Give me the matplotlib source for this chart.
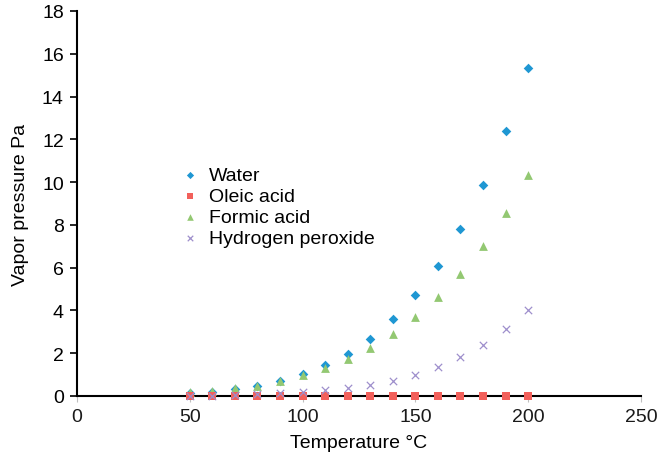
import matplotlib
matplotlib.use("Agg")
import matplotlib.pyplot as plt

plt.rcParams['font.family'] = ['Liberation Sans', 'DejaVu Sans']

temperature = [50, 60, 70, 80, 90, 100, 110, 120, 130, 140, 150, 160, 170, 180, 190, 200]
water = [0.12, 0.20, 0.31, 0.47, 0.70, 1.01, 1.43, 1.96, 2.66, 3.58, 4.71, 6.10, 7.80, 9.86, 12.39, 15.33]
oleic_acid = [0.0] * 16
formic_acid = [0.17, 0.25, 0.36, 0.48, 0.70, 0.98, 1.29, 1.73, 2.24, 2.88, 3.67, 4.61, 5.70, 7.01, 8.55, 10.33]
hydrogen_peroxide = [0.01, 0.02, 0.04, 0.07, 0.12, 0.19, 0.27, 0.36, 0.51, 0.72, 1.00, 1.36, 1.81, 2.40, 3.12, 4.00]

x_ticks = [0, 50, 100, 150, 200, 250]
y_ticks = [0, 2, 4, 6, 8, 10, 12, 14, 16, 18]

fig = plt.figure(figsize=(6.57, 4.60), dpi=100)
ax = fig.add_axes([0.1172, 0.137, 0.8584, 0.837])

ax.scatter(temperature, water, marker='D', s=24, color='#1f97d3', label='Water', zorder=3, linewidths=0, clip_on=False)
ax.scatter(temperature, oleic_acid, marker='s', s=36, color='#f2605b', label='Oleic acid', zorder=5, linewidths=0, clip_on=False)
ax.scatter(temperature, formic_acid, marker='^', s=40, color='#93c872', label='Formic acid', zorder=4, linewidths=0, clip_on=False)
ax.scatter(temperature, hydrogen_peroxide, marker='x', s=28, color='#9e8fcc', label='Hydrogen peroxide', zorder=6, linewidths=0.9, clip_on=False)

ax.set_xlim(0, 250)
ax.set_ylim(0, 18)
ax.set_xticks(x_ticks)
ax.set_yticks(y_ticks)
ax.spines['top'].set_visible(False)
ax.spines['right'].set_visible(False)
ax.spines['left'].set_linewidth(1.5)
ax.spines['bottom'].set_linewidth(1.5)
ax.spines['bottom'].set_zorder(2)
ax.tick_params(axis='y', direction='out', length=5, width=1.2, labelsize=14, colors='black', pad=4.5)
ax.tick_params(axis='x', direction='out', length=4, width=0.8, color='#bfbfbf', labelsize=14, labelcolor='#1a1a1a', pad=5)
ax.set_xlabel('Temperature °C', fontsize=14, labelpad=6)
ax.set_ylabel('Vapor pressure Pa', fontsize=14, labelpad=9)

ax.legend(loc='upper left', bbox_to_anchor=(0.177, 0.621), frameon=False, fontsize=14,
          handletextpad=0.73, labelspacing=0.17, markerscale=0.75, handlelength=0.4, borderpad=0)

fig.savefig('out.png', dpi=100)
